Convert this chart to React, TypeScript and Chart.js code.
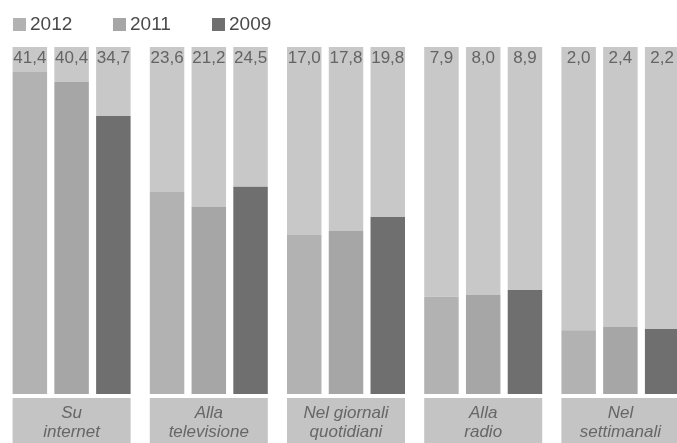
import React, { useEffect, useRef } from "react";
import { Chart, registerables } from "chart.js";

Chart.register(...registerables);

// Categories (two-line labels as printed)
const categories: string[][] = [
  ["Su", "internet"],
  ["Alla", "televisione"],
  ["Nel giornali", "quotidiani"],
  ["Alla", "radio"],
  ["Nel", "settimanali"],
];

const years = ["2012", "2011", "2009"];

// Printed values (per cent)
const values2012 = [41.4, 23.6, 17.0, 7.9, 2.0];
const values2011 = [40.4, 21.2, 17.8, 8.0, 2.4];
const values2009 = [34.7, 24.5, 19.8, 8.9, 2.2];

// Filled share of each column as drawn in the picture (per cent of column height)
const fill2012 = [92.8, 58.2, 45.8, 28.0, 18.4];
const fill2011 = [89.9, 53.9, 47.0, 28.5, 19.3];
const fill2009 = [80.1, 59.7, 51.0, 30.0, 18.7];

const yearColors = ["#b2b2b2", "#a6a6a6", "#6f6f6f"];
const columnColor = "#c8c8c8";

const fmt = (v: number) => v.toFixed(1).replace(".", ",");

export default function App() {
  const ref = useRef<HTMLCanvasElement | null>(null);

  useEffect(() => {
    const canvas = ref.current;
    if (!canvas) return;

    const fills = [fill2012, fill2011, fill2009];
    const vals = [values2012, values2011, values2009];

    const datasets: any[] = [];
    years.forEach((y, i) => {
      datasets.push({
        label: y,
        data: fills[i],
        backgroundColor: yearColors[i],
        stack: "s" + y,
        borderWidth: 0,
        barPercentage: 0.826,
        categoryPercentage: 0.913,
      });
      datasets.push({
        label: y + "-rest",
        data: fills[i].map((f) => 100 - f),
        backgroundColor: columnColor,
        stack: "s" + y,
        borderWidth: 0,
        barPercentage: 0.826,
        categoryPercentage: 0.913,
      });
    });

    const overlay = {
      id: "overlay",
      afterDatasetsDraw(chart: any) {
        const ctx = chart.ctx;
        const area = chart.chartArea;
        ctx.save();
        // value labels
        ctx.font = "17px 'Liberation Sans', Arial, sans-serif";
        ctx.fillStyle = "#646464";
        ctx.textAlign = "center";
        ctx.textBaseline = "middle";
        years.forEach((_, i) => {
          const meta = chart.getDatasetMeta(i * 2);
          meta.data.forEach((el: any, j: number) => {
            ctx.fillText(fmt(vals[i][j]), el.x, area.top + 11);
          });
        });
        // category boxes
        const m0 = chart.getDatasetMeta(0);
        const m2 = chart.getDatasetMeta(4);
        categories.forEach((lines, j) => {
          const a: any = m0.data[j];
          const b: any = m2.data[j];
          const x0 = a.x - a.width / 2;
          const x1 = b.x + b.width / 2;
          const top = area.bottom + 4;
          ctx.fillStyle = "#c4c4c4";
          ctx.fillRect(x0, top, x1 - x0, chart.height - top);
          ctx.fillStyle = "#666666";
          ctx.font = "italic 17px 'Liberation Sans', Arial, sans-serif";
          ctx.fillText(lines[0], (x0 + x1) / 2, top + 15);
          ctx.fillText(lines[1], (x0 + x1) / 2, top + 34);
        });
        // legend
        const legendX = [13, 113, 212];
        ctx.textAlign = "left";
        ctx.font = "19px 'Liberation Sans', Arial, sans-serif";
        years.forEach((y, i) => {
          ctx.fillStyle = yearColors[i];
          ctx.fillRect(legendX[i], 18, 13, 13);
          ctx.fillStyle = "#4a4a4a";
          ctx.fillText(y, legendX[i] + 17, 25);
        });
        ctx.restore();
      },
    };

    const chart = new Chart(canvas, {
      type: "bar",
      data: {
        labels: categories.map((c) => c.join(" ")),
        datasets,
      },
      options: {
        responsive: false,
        animation: false,
        layout: { padding: { left: 3, right: 11, top: 47, bottom: 49 } },
        plugins: { legend: { display: false }, tooltip: { enabled: false } },
        scales: {
          x: { stacked: true, display: false },
          y: { stacked: true, display: false, min: 0, max: 100 },
        },
      },
      plugins: [overlay],
    });

    return () => chart.destroy();
  }, []);

  return (
    <div
      style={{
        position: "fixed",
        left: 0,
        top: 0,
        width: 677,
        height: 443,
        overflow: "hidden",
        background: "#ffffff",
      }}
    >
      <canvas ref={ref} width={700} height={443} style={{ display: "block" }} />
    </div>
  );
}
